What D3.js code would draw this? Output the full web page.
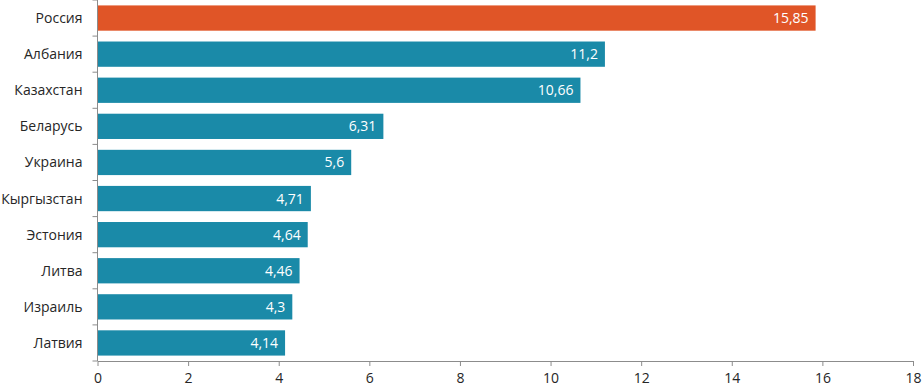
<!DOCTYPE html>
<html>
<head>
<meta charset="utf-8">
<script src="https://cdn.jsdelivr.net/npm/d3@7"></script>
<style>
  body { margin: 0; background: #fff; }
  .axis text { font-family: "Open Sans", sans-serif; font-size: 14px; fill: #262626; }
  .axis path, .axis line { stroke: #8c8c8c; }
</style>
</head>
<body>
<svg class="chart"></svg>
<script>
var countries = ["Россия", "Албания", "Казахстан", "Беларусь", "Украина", "Кыргызстан", "Эстония", "Литва", "Израиль", "Латвия"];
var values = [15.85, 11.2, 10.66, 6.31, 5.6, 4.71, 4.64, 4.46, 4.3, 4.14];
var labels = ["15,85", "11,2", "10,66", "6,31", "5,6", "4,71", "4,64", "4,46", "4,3", "4,14"];
var xTicks = [0, 2, 4, 6, 8, 10, 12, 14, 16, 18];

var width = 922,
    height = 388;

var svg = d3.select(".chart").attr("width", width).attr("height", height),
    margin = {top: 0, right: 9, bottom: 27, left: 97.5},
    w = width - margin.left - margin.right,
    h = height - margin.top - margin.bottom,
    g = svg.append("g").attr("transform", "translate(" + margin.left + "," + margin.top + ")");

var data = countries.map(function(c, i) { return {country: c, value: values[i], label: labels[i]}; });

var y = d3.scaleBand()
    .domain(countries)
    .range([0, h])
    .paddingInner(0.3)
    .paddingOuter(0.15);

var x = d3.scaleLinear()
    .domain([0, 18])
    .range([0, w]);

g.selectAll("rect.bar")
  .data(data)
  .enter().append("rect")
    .attr("class", "bar")
    .attr("x", x(0))
    .attr("y", function(d) { return y(d.country); })
    .attr("width", function(d) { return x(d.value) - x(0); })
    .attr("height", y.bandwidth())
    .attr("fill", function(d, i) { return i === 0 ? "#e05527" : "#1a8aa8"; });

g.selectAll("text.val")
  .data(data)
  .enter().append("text")
    .attr("class", "val")
    .attr("x", function(d) { return x(d.value) - 7; })
    .attr("y", function(d) { return y(d.country) + y.bandwidth() / 2; })
    .attr("dy", "0.36em")
    .attr("text-anchor", "end")
    .attr("fill", "#fff")
    .attr("font-family", "'Open Sans', sans-serif")
    .attr("font-size", 14)
    .text(function(d) { return d.label; });

// x axis
g.append("g")
    .attr("class", "axis")
    .attr("transform", "translate(0," + h + ")")
    .call(d3.axisBottom(x).tickValues(xTicks).tickSize(5).tickSizeOuter(0).tickPadding(7))
    .call(function(a) { a.selectAll(".tick text").text(function(d) { return d; }); });

// y axis: tick marks sit between categories
var yAxis = g.append("g").attr("class", "axis");
yAxis.append("line")
    .attr("x1", 0).attr("x2", 0)
    .attr("y1", 0).attr("y2", h);
var step = y.step();
var bounds = d3.range(countries.length + 1).map(function(i) { return y(countries[0]) - step * y.paddingInner() / 2 + i * step; });
yAxis.selectAll("line.tk")
  .data(bounds)
  .enter().append("line")
    .attr("class", "tk")
    .attr("x1", -5).attr("x2", 0)
    .attr("y1", function(d) { return d; })
    .attr("y2", function(d) { return d; });
yAxis.selectAll("text.cat")
  .data(countries)
  .enter().append("text")
    .attr("class", "cat")
    .attr("x", -15)
    .attr("y", function(d) { return y(d) + y.bandwidth() / 2; })
    .attr("dy", "0.36em")
    .attr("text-anchor", "end")
    .text(function(d) { return d; });
</script>
</body>
</html>
